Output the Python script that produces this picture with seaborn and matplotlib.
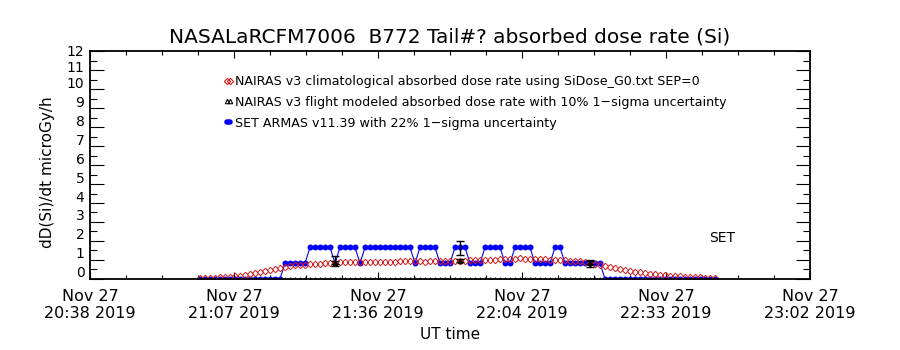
import numpy as np
import pandas as pd
import seaborn as sns
import matplotlib.pyplot as plt
import matplotlib.transforms as mtransforms
from matplotlib.lines import Line2D

title = "NASALaRCFM7006  B772 Tail#? absorbed dose rate (Si)"

# 1-minute samples starting 21:00 UT
start = "2019-11-27 21:00"

# SET ARMAS dose rate (microGy/h)
set_dose = [
    0, 0, 0, 0, 0, 0, 0, 0, 0, 0, 0, 0, 0, 0, 0, 0, 0,
    0.83, 0.83, 0.83, 0.83, 0.83,
    1.66, 1.66, 1.66, 1.66, 1.66,
    0.83,
    1.66, 1.66, 1.66, 1.66,
    0.83,
    1.66, 1.66, 1.66, 1.66, 1.66, 1.66, 1.66, 1.66, 1.66, 1.66,
    0.83,
    1.66, 1.66, 1.66, 1.66,
    0.83, 0.83, 0.83,
    1.66, 1.66, 1.66,
    0.83, 0.83, 0.83,
    1.66, 1.66, 1.66, 1.66,
    0.83, 0.83,
    1.66, 1.66, 1.66, 1.66,
    0.83, 0.83, 0.83, 0.83,
    1.66, 1.66,
    0.83, 0.83, 0.83, 0.83, 0.83, 0.83, 0.83, 0.83,
    0, 0, 0, 0, 0, 0, 0, 0, 0, 0, 0, 0, 0, 0, 0, 0, 0, 0, 0, 0, 0, 0, 0,
]

# NAIRAS v3 climatological dose rate, same times
nairas_clim = [
    0.04, 0.05, 0.06, 0.07, 0.08, 0.10, 0.12, 0.14, 0.17, 0.20,
    0.25, 0.30, 0.36, 0.42, 0.48, 0.54, 0.60, 0.64, 0.68, 0.72,
    0.75, 0.76, 0.77, 0.78, 0.80, 0.83, 0.86, 0.86, 0.87, 0.87,
    0.88, 0.88, 0.88, 0.89, 0.89, 0.90, 0.90, 0.91, 0.91, 0.91,
    0.92, 0.92, 0.93, 0.93, 0.92, 0.91, 0.92, 0.93, 0.94, 0.95,
    0.96, 0.96, 0.97, 0.97, 0.98, 0.99, 1.00, 1.00, 1.01, 1.02,
    1.03, 1.04, 1.05, 1.06, 1.08, 1.07, 1.06, 1.05, 1.04, 1.03,
    1.01, 1.00, 0.99, 0.98, 0.96, 0.94, 0.92, 0.88, 0.83, 0.78,
    0.73, 0.68, 0.63, 0.57, 0.51, 0.47, 0.42, 0.38, 0.35, 0.32,
    0.28, 0.25, 0.22, 0.20, 0.18, 0.16, 0.14, 0.12, 0.11, 0.09,
    0.08, 0.07, 0.06, 0.05,
]

# points with uncertainty bars
err_times = ["2019-11-27 21:27", "2019-11-27 21:52", "2019-11-27 22:18"]
set_err_val = [0.94, 1.63, 0.82]
set_err = [0.28, 0.37, 0.18]
flight_val = [0.86, 0.97, 0.86]

x_start, x_end = "2019-11-27 20:38", "2019-11-27 23:02"
xtick_labels = ["Nov 27\n20:38 2019", "Nov 27\n21:07 2019", "Nov 27\n21:36 2019",
                "Nov 27\n22:04 2019", "Nov 27\n22:33 2019", "Nov 27\n23:02 2019"]
ytick_values = list(range(13))

legend_labels = [
    "NAIRAS v3 climatological absorbed dose rate using SiDose_G0.txt SEP=0",
    "NAIRAS v3 flight modeled absorbed dose rate with 10% 1\u2212sigma uncertainty",
    "SET ARMAS v11.39 with 22% 1\u2212sigma uncertainty",
]

red = "#d42020"

sns.set_style("white")
plt.rcParams['font.family'] = ['DejaVu Sans']
plt.rcParams.update({"text.color": "black", "axes.labelcolor": "black",
                     "xtick.color": "black", "ytick.color": "black"})

times = pd.date_range(start, periods=len(set_dose), freq="1min")
df = pd.DataFrame({"time": times, "set": set_dose, "nairas": nairas_clim})
df["floor"] = np.zeros(len(df))
etimes = pd.to_datetime(err_times)

fig, ax = plt.subplots(figsize=(9, 3.5), dpi=100)
fig.subplots_adjust(left=0.1, right=0.9, bottom=0.203, top=0.854)

# flight modeled series sitting on the floor
sns.lineplot(data=df, x="time", y="floor", ax=ax, linestyle="none", marker="^",
             markersize=2.5, markerfacecolor="none", markeredgecolor="black",
             markeredgewidth=0.7)

# SET ARMAS
sns.lineplot(data=df, x="time", y="set", ax=ax, color="blue", linewidth=0.8,
             marker="o", markersize=4.3, markeredgewidth=0, markerfacecolor="blue")

# NAIRAS climatology
sns.lineplot(data=df, x="time", y="nairas", ax=ax, linestyle="none", marker="D",
             markersize=3.3, markerfacecolor="none", markeredgecolor=red,
             markeredgewidth=0.7)

# uncertainty bars
ax.errorbar(etimes, set_err_val, yerr=set_err, fmt="none", ecolor="black",
            elinewidth=1.0, capsize=3, capthick=1.0)
ax.errorbar(etimes, flight_val, yerr=[v * 0.1 for v in flight_val], fmt="^",
            color="black", ms=3, elinewidth=1.0, capsize=3, capthick=1.0)

ax.text(pd.Timestamp("2019-11-27 22:44:30"), 2.15, "SET", fontsize=10,
        ha="center", va="center")

# axes
ax.set_xlim(pd.Timestamp(x_start), pd.Timestamp(x_end))
ax.set_ylim(0, 12)
ax.set_xticks(pd.date_range(x_start, x_end, periods=len(xtick_labels)))
ax.set_xticklabels(xtick_labels, fontsize=11.5)
ax.set_xticks(pd.date_range(x_start, x_end, periods=21), minor=True)
ax.set_yticks(ytick_values)
ax.set_yticklabels([str(v) for v in ytick_values], fontsize=10)
ax.set_yticks(np.arange(0.5, 12, 1.0), minor=True)

ax.tick_params(axis="x", which="major", direction="in", length=5, width=0.8,
               top=True, bottom=True, pad=7)
ax.tick_params(axis="x", which="minor", direction="in", length=3, width=0.8,
               top=True, bottom=True)
ax.tick_params(axis="y", which="major", direction="in", length=10, width=0.8,
               left=True, right=True, pad=4)
ax.tick_params(axis="y", which="minor", direction="in", length=5, width=0.8,
               left=True, right=True)
for s in ax.spines.values():
    s.set_linewidth(1.3)
    s.set_color("black")

# IDL draws the y labels a little above their ticks (pixels)
for tick, v in zip(ax.yaxis.get_major_ticks(), ytick_values):
    dy_px = {12: 1, 11: 4}.get(v, 7)
    off = mtransforms.ScaledTranslation(0, dy_px / fig.dpi, fig.dpi_scale_trans)
    tick.label1.set_transform(tick.label1.get_transform() + off)

ax.set_xlabel("UT time", fontsize=11)
ax.xaxis.set_label_coords(0.5, -0.21)
ax.set_ylabel("dD(Si)/dt microGy/h", fontsize=11)
ax.yaxis.set_label_coords(-0.048, 0.47)
ax.set_title(title, fontsize=14.5, pad=6)

handles = [
    Line2D([], [], linestyle="none", marker="D", markersize=3.2,
           markerfacecolor="none", markeredgecolor=red, markeredgewidth=0.8),
    Line2D([], [], linestyle="none", marker="^", markersize=3.2,
           markerfacecolor="none", markeredgecolor="black", markeredgewidth=0.8),
    Line2D([], [], color="blue", linewidth=4),
]
ax.legend(handles, legend_labels, loc="upper left", bbox_to_anchor=(0.185, 0.895),
          frameon=False, fontsize=9.1, numpoints=2, handlelength=0.8,
          handletextpad=0.15, labelspacing=0.62, borderpad=0, borderaxespad=0)

fig.savefig("out.png", dpi=100)
